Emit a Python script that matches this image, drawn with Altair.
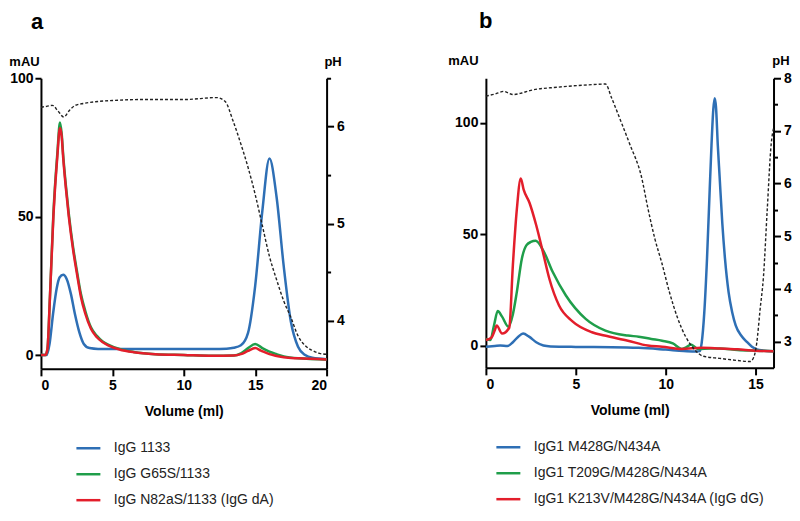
import altair as alt
import pandas as pd

FONT = "Liberation Sans"

# ---------------- Panel a ----------------
A_NAMES = ["IgG 1133", "IgG G65S/1133", "IgG N82aS/1133 (IgG dA)"]
B_NAMES = ["IgG1 M428G/N434A", "IgG1 T209G/M428G/N434A", "IgG1 K213V/M428G/N434A (IgG dG)"]
COLORS = ["#2e6fb5", "#1f9e4a", "#e31e2b"]

A_BLUE_X = [0, 0.4, 0.6, 0.85, 1.1, 1.3, 1.56, 1.8, 2.1, 2.37, 2.7, 3.0, 3.4, 4, 6, 8, 10, 12, 13, 13.5,
            14, 14.5, 15, 15.5, 16, 16.5, 17, 17.5, 18, 18.5, 19, 20]
A_BLUE_Y = [0, 0, 4, 15, 24, 28, 29, 27.5, 22, 15, 8, 4, 2.5, 2.2, 2.2, 2.2, 2.2, 2.2, 2.3, 2.6,
            3.5, 8, 25, 52, 71, 57, 32, 12, 3, 0, -1, -1.5]

A_GREEN_X = [0, 0.3, 0.45, 0.63, 0.87, 1.15, 1.33, 1.45, 1.56, 1.75, 1.95, 2.25, 2.53, 2.8, 3.1, 3.5,
             3.9, 4.3, 4.7, 5.5, 6.5, 8, 10, 12, 13.5, 14, 14.5, 15, 15.5, 16, 16.5, 17, 18, 20]
A_GREEN_Y = [0, 0, 2, 21, 51, 73, 84, 80, 72, 61, 51, 39, 30, 22, 16, 10, 7, 5, 3.8, 2.2, 1.1, 0.3, 0,
             -0.3, -0.2, 0.6, 2.5, 4, 2.5, 1.2, 0.3, -0.5, -1.2, -1.6]

A_RED_X = [0, 0.3, 0.45, 0.63, 0.87, 1.15, 1.33, 1.45, 1.56, 1.75, 1.95, 2.25, 2.53, 2.8, 3.1, 3.5,
           3.9, 4.3, 4.7, 5.5, 6.5, 8, 10, 12, 13.5, 14, 14.5, 15, 15.4, 16, 17, 18, 20]
A_RED_Y = [0, 0, 2, 21, 50, 72, 82, 79, 71, 60, 50, 38, 29, 21, 15, 9.5, 6.5, 4.7, 3.5, 2, 1, 0.3, 0,
           -0.3, -0.2, 0.3, 1.5, 2.5, 1.6, 0.3, -0.8, -1.2, -1.6]

A_PH_X = [0, 0.4, 0.8, 1.2, 1.6, 2.0, 2.4, 3, 4, 5, 7, 10, 12.3, 12.9, 13.45, 14, 14.5, 15, 15.5, 16,
          16.5, 17, 17.5, 18, 18.5, 19, 19.5, 20]
A_PH_Y = [6.2, 6.21, 6.22, 6.16, 6.1, 6.17, 6.22, 6.24, 6.26, 6.27, 6.28, 6.28, 6.3, 6.26, 6.06, 5.82,
          5.58, 5.3, 4.98, 4.66, 4.42, 4.2, 4.03, 3.84, 3.74, 3.69, 3.66, 3.65]

# ---------------- Panel b ----------------
B_BLUE_X = [0, 0.5, 0.8, 1.2, 1.5, 1.8, 2.07, 2.4, 2.8, 3.2, 3.6, 5, 7, 8.5, 10, 11, 11.7, 11.9, 12.0,
            12.15, 12.3, 12.45, 12.55, 12.65, 12.73, 12.8, 12.9, 13.0, 13.15, 13.3, 13.5, 13.7, 13.9,
            14.2, 14.5, 14.8, 15.2, 16]
B_BLUE_Y = [-0.5, -0.2, 0, -0.2, 1.5, 4, 5.4, 4, 1.5, 0, -0.4, -0.6, -0.7, -1, -1.8, -2.4, -2.7, -2.5, 1,
            15, 39, 70, 90, 106, 111, 107, 90, 76, 55, 39, 24, 15, 9, 4.5, 1.8, -0.5, -2, -2.5]

B_GREEN_X = [0, 0.25, 0.45, 0.66, 0.9, 1.25, 1.5, 1.72, 2.0, 2.25, 2.5, 2.77, 3.17, 3.72, 4.45, 5.55,
             6.65, 7.9, 8.5, 9.2, 9.8, 10.4, 10.9, 11.2, 11.4, 11.8, 12.5, 13, 14, 15, 16]
B_GREEN_Y = [3, 2.5, 9, 15.5, 13, 8.5, 14, 24, 39, 45, 46.5, 47, 43, 33, 22.5, 12, 6.7, 4.5, 4, 3, 2.2,
             1, -1.5, -0.5, 0.5, -1.5, -1.3, -1.3, -2, -2.3, -2.5]

B_RED_X = [0, 0.3, 0.5, 0.6, 0.9, 1.3, 1.5, 1.72, 1.94, 2.1, 2.43, 2.8, 3.17, 3.53, 4.07, 4.8, 5.9,
           6.6, 7.9, 9, 9.8, 10.9, 12, 13, 14, 15, 16]
B_RED_Y = [2.5, 3.5, 7, 9, 5.4, 8, 36, 61, 75, 70, 64, 54, 42, 30, 18, 11, 6, 4.5, 2.2, 0, -0.5, -1.5,
           -1, -1.3, -1.7, -2.3, -2.5]

B_PH_X = [0, 0.5, 1.0, 1.5, 2.0, 2.5, 4, 6, 6.65, 7.0, 7.5, 8.0, 8.66, 9.0, 9.4, 9.78, 10.2, 10.66,
          11.1, 11.6, 12.1, 13, 14, 14.7, 14.9, 15.07, 15.25, 15.44, 15.65, 15.87, 16]
B_PH_Y = [7.66, 7.7, 7.75, 7.69, 7.72, 7.77, 7.83, 7.88, 7.89, 7.62, 7.19, 6.75, 6.12, 5.55, 4.95, 4.5,
          3.95, 3.45, 3.1, 2.85, 2.72, 2.68, 2.64, 2.62, 2.7, 2.98, 3.6, 4.23, 5.5, 6.75, 7.05]


def long_df(names, xs, ys):
    rows = []
    for n, xv, yv in zip(names, xs, ys):
        for a, b in zip(xv, yv):
            rows.append({"vol": a, "mAU": b, "series": n})
    return pd.DataFrame(rows)


def panel(letter, names, xs, ys, phx, phy, xdom, xticks, ydom, yticks, phdom, phticks,
          width, height, legend_x, legend_y, mau_tx, mau_ty, ph_tx, ph_ty, title_dx):
    df = long_df(names, xs, ys)
    phdf = pd.DataFrame({"vol": phx, "pH": phy})
    xenc = alt.X("vol:Q", scale=alt.Scale(domain=xdom, nice=False, zero=False),
                 axis=alt.Axis(values=xticks, title="Volume (ml)", titlePadding=12, labelPadding=3))
    lines = alt.Chart(df).mark_line(strokeWidth=2.5, interpolate="monotone").encode(
        x=xenc,
        y=alt.Y("mAU:Q", scale=alt.Scale(domain=ydom, nice=False, zero=False),
                axis=alt.Axis(orient="left", values=yticks, title="mAU", titleAngle=0,
                              titleX=mau_tx, titleY=mau_ty, titleAlign="center",
                              titleBaseline="middle", titleFontSize=13, labelPadding=2,
                              tickSize=6)),
        color=alt.Color("series:N", scale=alt.Scale(domain=names, range=COLORS),
                        legend=alt.Legend(title=None, orient="none", legendX=legend_x,
                                          legendY=legend_y, direction="vertical",
                                          symbolType="stroke", symbolSize=576,
                                          symbolStrokeWidth=2.5, labelFontSize=14,
                                          labelFont=FONT, labelColor="#222222",
                                          labelOffset=12, rowPadding=5, labelLimit=400)),
    )
    ph = alt.Chart(phdf).mark_line(color="#222222", strokeDash=[3, 2], strokeWidth=1.4,
                                    interpolate="monotone").encode(
        x=alt.X("vol:Q"),
        y=alt.Y("pH:Q", scale=alt.Scale(domain=phdom, nice=False, zero=False),
                axis=alt.Axis(orient="right", values=phticks, title="pH", titleAngle=0,
                              titleX=ph_tx, titleY=ph_ty, titleAlign="center",
                              titleBaseline="middle", titleFontSize=13, labelPadding=3,
                              labelExpr="datum.value % 1 == 0 ? format(datum.value, 'd') : ''",
                              tickSize={"expr": "datum.value % 1 == 0 ? 7 : 4"})),
    )
    return alt.layer(lines, ph).resolve_scale(y="independent").properties(
        width=width, height=height,
        title=alt.TitleParams(letter, anchor="start", frame="group", fontSize=22,
                              font=FONT, fontWeight="bold", color="black", dx=title_dx,
                              offset=21),
    )


panel_a = panel("a", A_NAMES, [A_BLUE_X, A_GREEN_X, A_RED_X], [A_BLUE_Y, A_GREEN_Y, A_RED_Y],
                A_PH_X, A_PH_Y, [0, 20], [0, 5, 10, 15, 20], [-5, 100], [0, 50, 100],
                [3.5, 6.5], [4, 4.5, 5, 5.5, 6, 6.5], 286, 291, 34, 357, -17, -17, 6, -17, -10)

panel_b = panel("b", B_NAMES, [B_BLUE_X, B_GREEN_X, B_RED_X], [B_BLUE_Y, B_GREEN_Y, B_RED_Y],
                B_PH_X, B_PH_Y, [0, 16], [0, 5, 10, 15], [-10, 120], [0, 50, 100],
                [2.5, 8], [3, 3.5, 4, 4.5, 5, 5.5, 6, 6.5, 7, 7.5, 8], 288, 290, 9, 356,
                -23, -18, 7, -18, -7)

chart = alt.hconcat(panel_a, panel_b, spacing=159.5, bounds="flush").resolve_scale(
    color="independent"
).properties(
    padding={"left": 0, "top": 2, "right": 0, "bottom": 0},
    background="white",
).configure_view(stroke=None).configure_axis(
    grid=False, domainColor="black", domainWidth=2, tickColor="black", tickWidth=2,
    tickSize=7, labelFont=FONT, labelFontSize=14, labelFontWeight="bold", labelColor="black",
    titleFont=FONT, titleFontSize=14, titleFontWeight="bold", titleColor="black",
)

chart.save("out.html", embed_options={"renderer": "svg", "actions": False})
